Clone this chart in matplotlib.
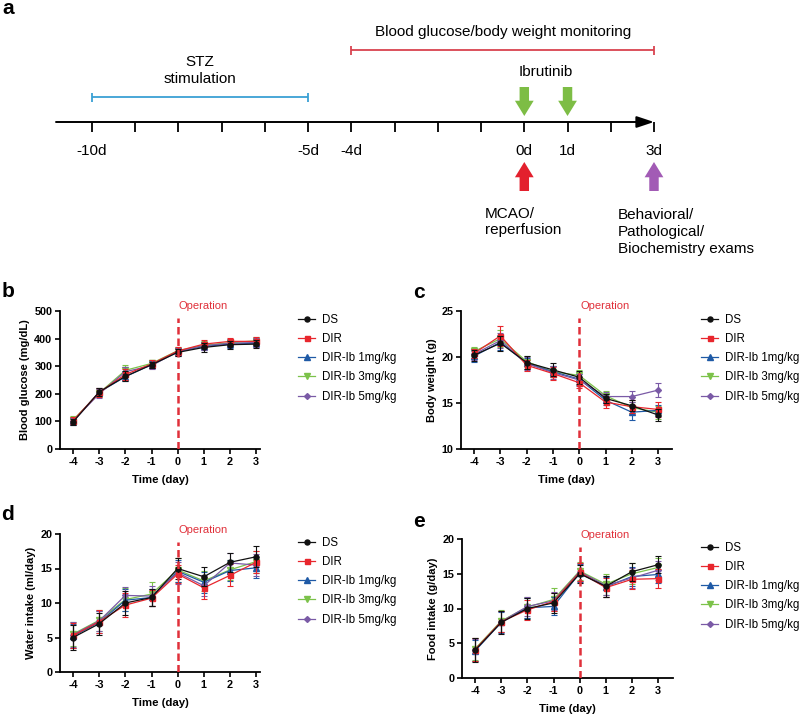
import matplotlib
matplotlib.use("Agg")
import matplotlib.pyplot as plt
from matplotlib.lines import Line2D
import numpy as np

plt.rcParams['font.family'] = ['Liberation Sans', 'DejaVu Sans']

W, H = 800, 718

# ---------------- data ----------------
timeline_days = list(range(-10, 4))
timeline_labels = {-10: "-10d", -5: "-5d", -4: "-4d", 0: "0d", 1: "1d", 3: "3d"}
stz_period = (-10, -5)
monitor_period = (-4, 3)
ibrutinib_days = [0, 1]
mcao_day = 0
exam_day = 3

days = [-4, -3, -2, -1, 0, 1, 2, 3]
groups = ["DS", "DIR", "DIR-Ib 1mg/kg", "DIR-Ib 3mg/kg", "DIR-Ib 5mg/kg"]

glucose_DS = [98, 207, 263, 305, 350, 368, 378, 380]
glucose_DIR = [103, 205, 270, 308, 355, 380, 390, 390]
glucose_Ib1 = [100, 206, 262, 306, 352, 372, 380, 383]
glucose_Ib3 = [105, 203, 285, 310, 356, 376, 385, 392]
glucose_Ib5 = [102, 200, 280, 302, 353, 374, 383, 386]
glucose_err_DS = [12, 14, 18, 12, 14, 15, 15, 15]
glucose_err_DIR = [14, 15, 20, 14, 15, 14, 13, 14]
glucose_err_Ib1 = [12, 15, 17, 13, 14, 15, 15, 14]
glucose_err_Ib3 = [13, 14, 20, 14, 15, 14, 14, 15]
glucose_err_Ib5 = [12, 16, 18, 13, 14, 14, 14, 15]

weight_DS = [20.2, 21.5, 19.4, 18.6, 17.8, 15.5, 14.7, 13.7]
weight_DIR = [20.4, 22.3, 19.1, 18.2, 17.2, 15.1, 14.6, 14.3]
weight_Ib1 = [20.1, 21.6, 19.3, 18.4, 17.6, 15.3, 14.0, 14.2]
weight_Ib3 = [20.6, 22.0, 19.5, 18.4, 18.0, 15.8, 14.5, 14.0]
weight_Ib5 = [20.3, 21.8, 19.3, 18.3, 17.5, 15.7, 15.7, 16.4]
weight_err_DS = [0.6, 0.8, 0.7, 0.7, 0.7, 0.5, 0.6, 0.7]
weight_err_DIR = [0.5, 1.1, 0.6, 0.7, 0.6, 0.6, 0.7, 0.8]
weight_err_Ib1 = [0.6, 0.8, 0.6, 0.6, 0.6, 0.5, 0.8, 0.6]
weight_err_Ib3 = [0.5, 0.9, 0.6, 0.6, 0.6, 0.5, 0.6, 0.7]
weight_err_Ib5 = [0.6, 0.8, 0.7, 0.7, 0.6, 0.5, 0.6, 0.8]

water_DS = [5.0, 7.0, 10.0, 10.8, 15.0, 13.8, 15.9, 16.7]
water_DIR = [5.3, 7.3, 9.7, 10.7, 14.2, 12.2, 14.0, 15.9]
water_Ib1 = [5.2, 7.2, 10.4, 10.8, 14.6, 13.0, 14.7, 15.1]
water_Ib3 = [5.5, 7.5, 10.5, 11.3, 14.8, 13.2, 14.8, 16.0]
water_Ib5 = [5.4, 7.4, 11.1, 11.0, 14.4, 12.5, 15.8, 15.5]
water_err_DS = [1.8, 1.6, 1.8, 1.3, 1.5, 1.4, 1.4, 1.5]
water_err_DIR = [1.8, 1.7, 1.8, 1.2, 1.3, 1.6, 1.6, 1.6]
water_err_Ib1 = [1.7, 1.6, 1.6, 1.3, 1.6, 1.5, 1.5, 1.5]
water_err_Ib3 = [1.8, 1.5, 1.7, 1.7, 1.7, 1.5, 1.5, 1.6]
water_err_Ib5 = [1.8, 1.5, 1.2, 1.4, 1.6, 1.5, 1.5, 1.6]

food_DS = [4.0, 8.0, 10.0, 10.8, 15.0, 13.2, 15.3, 16.3]
food_DIR = [4.1, 8.1, 9.8, 11.0, 15.2, 13.0, 14.2, 14.3]
food_Ib1 = [3.9, 8.0, 10.1, 10.3, 15.1, 13.1, 14.6, 14.9]
food_Ib3 = [4.2, 8.2, 10.2, 11.3, 15.4, 13.5, 15.0, 15.9]
food_Ib5 = [4.0, 8.1, 10.3, 11.1, 15.3, 13.3, 14.4, 15.5]
food_err_DS = [1.7, 1.6, 1.5, 1.4, 1.3, 1.5, 1.3, 1.2]
food_err_DIR = [1.6, 1.5, 1.4, 1.3, 1.3, 1.4, 1.4, 1.4]
food_err_Ib1 = [1.5, 1.5, 1.4, 1.3, 1.3, 1.4, 1.3, 1.3]
food_err_Ib3 = [1.6, 1.6, 1.5, 1.6, 1.3, 1.5, 1.5, 1.4]
food_err_Ib5 = [1.6, 1.5, 1.4, 1.3, 1.3, 1.4, 1.4, 1.4]

panel_ylabels = ["Blood glucose (mg/dL)", "Body weight (g)", "Water intake (ml/day)", "Food intake (g/day)"]
panel_yticks = [[0, 100, 200, 300, 400, 500], [10, 15, 20, 25], [0, 5, 10, 15, 20], [0, 5, 10, 15, 20]]

# ---------------- styles ----------------
colors = ["#111111", "#e8262d", "#1f5aa6", "#7cc24a", "#7a5aa6"]
markers = ["o", "s", "^", "v", "D"]
msizes = [3.6, 3.6, 3.8, 3.8, 3.0]
zorders = [10, 9, 8, 7, 8.5]
op_red = "#e0303a"

fig = plt.figure(figsize=(W / 100, H / 100), dpi=100)

def rect(l, r, t, b):
    return [l / W, 1 - b / H, (r - l) / W, (b - t) / H]

# ---------------- panel a: timeline ----------------
px_per_day = 43.23
x0_px = 92.0
axa = fig.add_axes([0, 1 - 290 / H, 1, 290 / H])
axa.set_xlim(-10 - x0_px / px_per_day, -10 + (W - x0_px) / px_per_day)
axa.set_ylim(290, 0)
axa.axis("off")

axa.annotate("", xy=(timeline_days[-1], 122), xytext=(timeline_days[0] - 36 / px_per_day, 122),
             arrowprops=dict(arrowstyle="-|>,head_length=0.75,head_width=0.25", color="black", lw=1.4,
                             shrinkA=0, shrinkB=0, mutation_scale=14))
axa.vlines(timeline_days, 122, 132, color="black", lw=1.3)
for d, lab in timeline_labels.items():
    axa.text(d, 151, lab, ha="center", va="center", fontsize=11)

def interval(ax, a, b, y, c):
    ax.hlines(y, a, b, color=c, lw=1.3)
    ax.vlines([a, b], y - 4.5, y + 4.5, color=c, lw=1.3)

interval(axa, stz_period[0], stz_period[1], 97, "#3aa0d4")
interval(axa, monitor_period[0], monitor_period[1], 50, "#d9434f")
axa.text(np.mean(stz_period), 70.5, "STZ\nstimulation", ha="center", va="center", fontsize=11, linespacing=1.25)
axa.text(np.mean(monitor_period), 32, "Blood glucose/body weight monitoring", ha="center", va="center", fontsize=11)
axa.text(np.mean(ibrutinib_days), 72, "Ibrutinib", ha="center", va="center", fontsize=11)

def fat_arrow(ax, x, y_from, y_to, c):
    ax.annotate("", xy=(x, y_to), xytext=(x, y_from),
                arrowprops=dict(arrowstyle="simple,head_length=1.1,head_width=1.35,tail_width=0.68",
                                color=c, shrinkA=0, shrinkB=0, mutation_scale=10, lw=0))

for d in ibrutinib_days:
    fat_arrow(axa, d, 87, 116, "#7dbd45")
fat_arrow(axa, mcao_day, 191, 162, "#e3202d")
fat_arrow(axa, exam_day, 191, 162, "#a25bb5")

axa.text(mcao_day - 0.91, 222, "MCAO/\nreperfusion", ha="left", va="center", fontsize=11, linespacing=1.25)
axa.text(exam_day - 0.83, 232, "Behavioral/\nPathological/\nBiochemistry exams", ha="left", va="center",
         fontsize=11, linespacing=1.25)

# ---------------- panels b-e ----------------
panel_rects = [rect(60, 260, 311, 449), rect(461, 672, 311, 449),
               rect(60, 260, 534, 672), rect(462, 673, 539, 678)]
panel_xlims = [(-4.5, 3.15), (-4.5, 3.53), (-4.5, 3.15), (-4.5, 3.57)]
panel_data = [
    ([glucose_DS, glucose_DIR, glucose_Ib1, glucose_Ib3, glucose_Ib5],
     [glucose_err_DS, glucose_err_DIR, glucose_err_Ib1, glucose_err_Ib3, glucose_err_Ib5]),
    ([weight_DS, weight_DIR, weight_Ib1, weight_Ib3, weight_Ib5],
     [weight_err_DS, weight_err_DIR, weight_err_Ib1, weight_err_Ib3, weight_err_Ib5]),
    ([water_DS, water_DIR, water_Ib1, water_Ib3, water_Ib5],
     [water_err_DS, water_err_DIR, water_err_Ib1, water_err_Ib3, water_err_Ib5]),
    ([food_DS, food_DIR, food_Ib1, food_Ib3, food_Ib5],
     [food_err_DS, food_err_DIR, food_err_Ib1, food_err_Ib3, food_err_Ib5]),
]
legend_anchor = [(298, 314), (701, 314), (298, 537), (701, 542)]
op_text_px = [306, 306, 530, 535]
dash_top_px = [318, 318, 542, 547]

legend_handles = [Line2D([], [], color=colors[g], marker=markers[g], ms=msizes[g], lw=0.9)
                  for g in range(5)]

for i, ax_rect in enumerate(panel_rects):
    ax = fig.add_axes(ax_rect)
    ys, errs = panel_data[i]
    for g in range(5):
        ax.errorbar(days, ys[g], yerr=errs[g], color=colors[g], marker=markers[g], ms=msizes[g],
                    lw=0.9, elinewidth=0.8, capsize=2.2, capthick=0.8, zorder=zorders[g],
                    label=groups[g])
    yt = panel_yticks[i]
    ax.set_ylim(yt[0], yt[-1])
    ax.set_yticks(yt)
    ax.set_xlim(*panel_xlims[i])
    ax.set_xticks(days)
    ax.set_xticklabels([str(d) for d in days])
    for s in ["top", "right"]:
        ax.spines[s].set_visible(False)
    for s in ["left", "bottom"]:
        ax.spines[s].set_linewidth(1.3)
    ax.tick_params(axis="both", direction="out", length=3.5, width=1.2, labelsize=7.8, pad=2)
    for lab in ax.get_xticklabels() + ax.get_yticklabels():
        lab.set_fontweight("bold")
    ax.set_ylabel(panel_ylabels[i], fontsize=8, fontweight="bold", labelpad=3)
    ax.set_xlabel("Time (day)", fontsize=8.2, fontweight="bold", labelpad=6)

    bottom_px = H * (1 - ax_rect[1])
    top_px = H * (1 - ax_rect[1] - ax_rect[3])
    y0, y1 = yt[0], yt[-1]
    frac = (bottom_px - dash_top_px[i]) / (bottom_px - top_px)
    ax.axvline(0, ymin=0, ymax=frac, color=op_red, lw=1.8, ls=(0, (3, 1.6)), zorder=12)
    tfrac = (bottom_px - op_text_px[i]) / (bottom_px - top_px)
    ax.text(0.05, y0 + tfrac * (y1 - y0), "Operation", color=op_red, fontsize=8, ha="left",
            va="center", clip_on=False)

    lx, ly = legend_anchor[i]
    fig.legend(handles=legend_handles, labels=groups, loc="upper left",
               bbox_to_anchor=(lx / W, 1 - ly / H), frameon=False, fontsize=8.3,
               handlelength=1.5, handletextpad=0.6, labelspacing=0.62, borderpad=0,
               borderaxespad=0)

for lab, (x, y) in zip("abcde", [(2, 14), (2, 297), (413, 298), (1, 520), (413, 527)]):
    fig.text(x / W, 1 - y / H, lab, fontsize=15, fontweight="bold", ha="left", va="baseline")

fig.savefig("out.png", dpi=100)
